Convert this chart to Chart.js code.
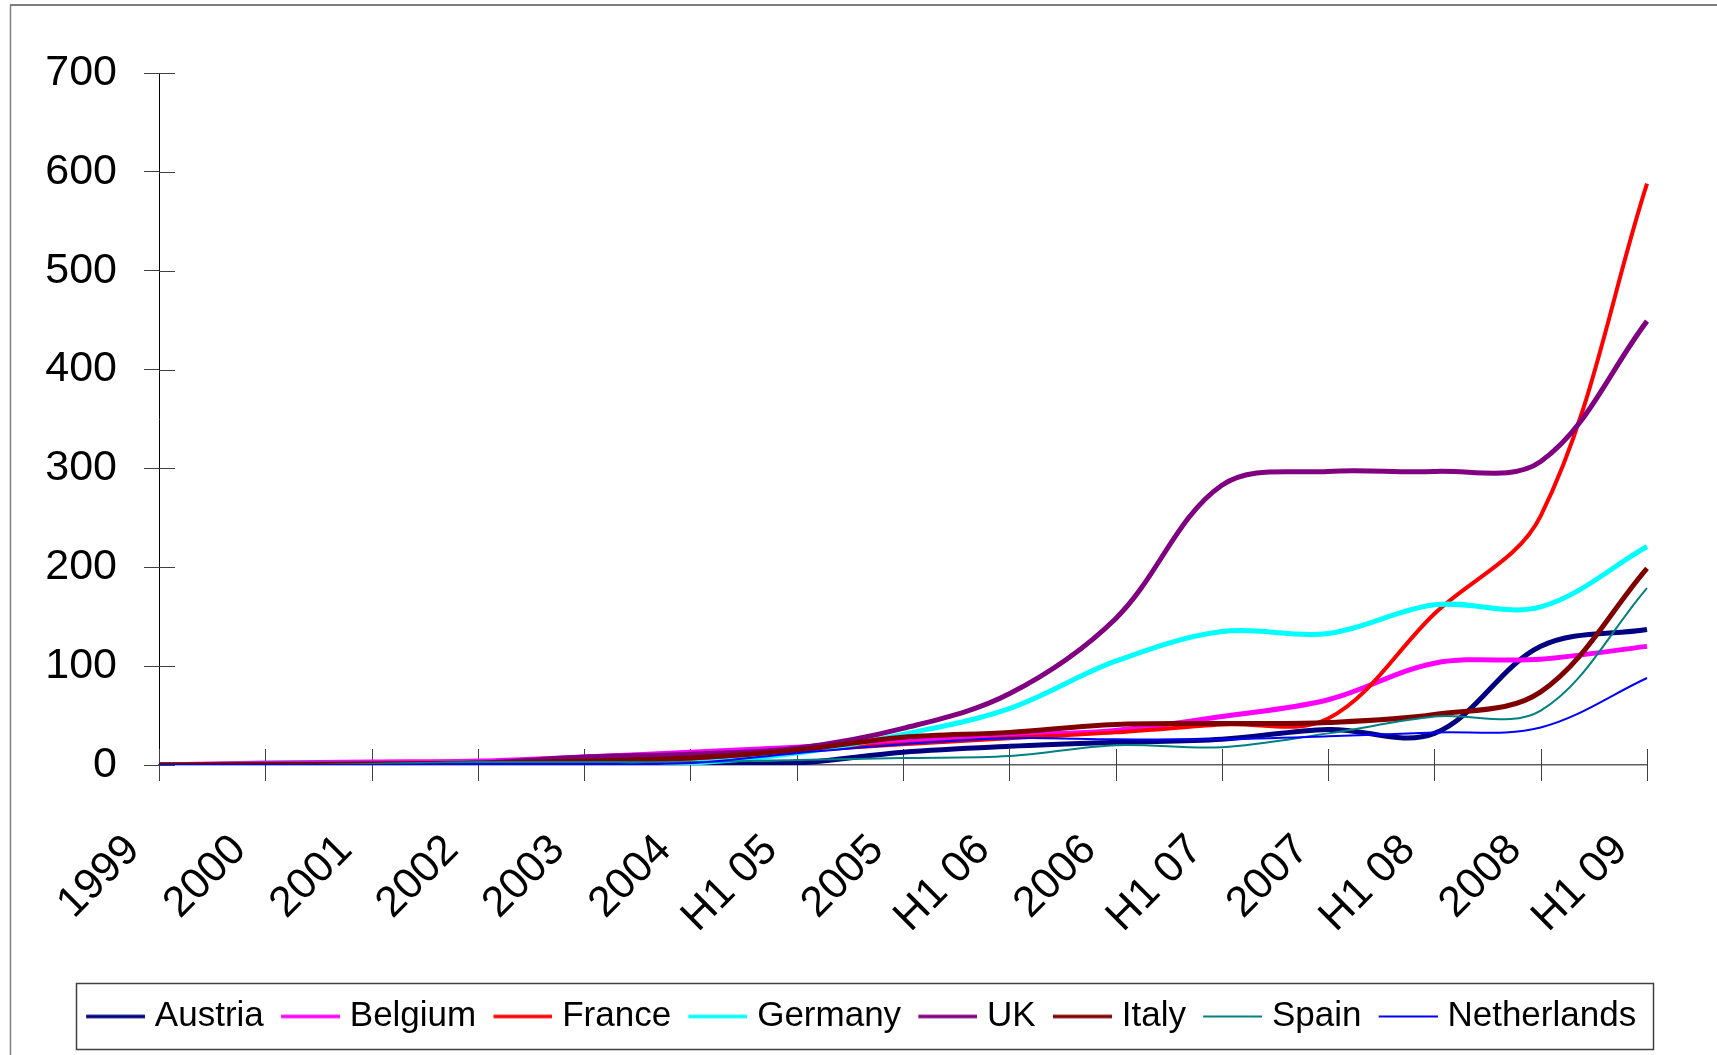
<!DOCTYPE html>
<html>
<head>
<meta charset="utf-8">
<script src="https://cdn.jsdelivr.net/npm/chart.js@4.4.1/dist/chart.umd.min.js"></script>
<style>
  html, body { margin: 0; padding: 0; background: #ffffff; }
  canvas { display: block; }
</style>
</head>
<body>
<canvas id="c" width="1717" height="1055"></canvas>
<script>
// ---- data ----
const periods = ['1999','2000','2001','2002','2003','2004','H1 05','2005','H1 06','2006','H1 07','2007','H1 08','2008','H1 09'];
const austria     = [0, 0, 0, 1, 1, 1, 2, 13, 19, 23, 26, 36, 32, 120, 137];
const belgium     = [0, 2, 3, 4, 8, 13, 18, 24, 30, 35, 49, 66, 103, 107, 120];
const france      = [0, 0, 0, 1, 3, 5, 14, 21, 27, 33, 41, 47, 153, 252, 588];
const germany     = [0, 1, 1, 2, 2, 2, 12, 31, 57, 105, 135, 133, 162, 160, 221];
const uk          = [0, 1, 1, 2, 8, 11, 17, 37, 72, 148, 283, 297, 297, 307, 449];
const italy       = [0, 0, 1, 2, 4, 7, 15, 28, 33, 41, 42, 43, 51, 74, 199];
const spain       = [0, 0, 1, 3, 3, 3, 5, 7, 9, 20, 18, 32, 49, 55, 179];
const netherlands = [0, 0, 0, 1, 1, 2, 12, 21, 27, 26, 26, 29, 33, 38, 88];
const seriesNames = ['Austria','Belgium','France','Germany','UK','Italy','Spain','Netherlands'];
const seriesData  = [austria, belgium, france, germany, uk, italy, spain, netherlands];
const yMin = 0, yMax = 700, yStep = 100;

// ---- styles ----
const colors = ['#000080','#FF00FF','#FF0000','#00FFFF','#800080','#800000','#008080','#0000FF'];
const widths = [5, 5, 4, 5, 5, 5, 2, 2];
const FONT = "'Liberation Sans', Arial, sans-serif";

function legendLine(color, w) {
  const c = document.createElement('canvas');
  c.width = 67; c.height = 12;
  const g = c.getContext('2d');
  g.strokeStyle = color; g.lineWidth = w;
  g.beginPath(); g.moveTo(8, 6); g.lineTo(67, 6); g.stroke();
  return c;
}

const datasets = seriesNames.map((name, i) => ({
  label: name,
  data: seriesData[i],
  borderColor: colors[i],
  backgroundColor: colors[i],
  borderWidth: widths[i],
  pointRadius: 0,
  pointHoverRadius: 0,
  pointStyle: legendLine(colors[i], widths[i] > 2 ? 3.5 : 1.8),
  tension: 0.35,
  fill: false,
  order: seriesNames.length - i
}));

const TICK = 16;
const crossTicks = {
  id: 'crossTicks',
  beforeDatasetsDraw(chart) {
    const {ctx, scales: {x, y}} = chart;
    ctx.save();
    ctx.strokeStyle = '#404040';
    ctx.lineWidth = 1;
    ctx.beginPath();
    x.ticks.forEach((t, i) => {
      const px = Math.round(x.getPixelForTick(i)) + 0.5;
      ctx.moveTo(px, x.top - TICK); ctx.lineTo(px, x.top + TICK);
    });
    y.ticks.forEach((t, i) => {
      const py = Math.round(y.getPixelForTick(i)) + 0.5;
      ctx.moveTo(y.right, py); ctx.lineTo(y.right + TICK, py);
    });
    ctx.stroke();
    ctx.restore();
  }
};

const frame = {
  id: 'frame',
  beforeDraw(chart) {
    const {ctx, width, height} = chart;
    ctx.save();
    ctx.fillStyle = '#ffffff';
    ctx.fillRect(0, 0, width, height);
    ctx.strokeStyle = '#7f7f7f';
    ctx.lineWidth = 2;
    ctx.beginPath(); ctx.moveTo(10, 5); ctx.lineTo(width, 5); ctx.stroke();
    ctx.lineWidth = 1.5;
    ctx.beginPath(); ctx.moveTo(10.5, 5); ctx.lineTo(10.5, height); ctx.stroke();
    ctx.restore();
  },
  afterDraw(chart) {
    const lg = chart.legend;
    if (!lg || !lg.legendHitBoxes || !lg.legendHitBoxes.length) return;
    const hb = lg.legendHitBoxes;
    let l = Infinity, r = -Infinity;
    hb.forEach(b => { l = Math.min(l, b.left); r = Math.max(r, b.left + b.width); });
    const cy = hb[0].top + hb[0].height / 2;
    const {ctx} = chart;
    ctx.save();
    ctx.strokeStyle = '#404040';
    ctx.lineWidth = 1.5;
    ctx.strokeRect(Math.round(l - 10) + 0.5, Math.round(cy - 33.5) + 0.5, Math.round(r + 17 - (l - 10)), 66);
    ctx.restore();
  }
};

new Chart(document.getElementById('c'), {
  type: 'line',
  data: { labels: periods, datasets },
  plugins: [frame, crossTicks],
  options: {
    responsive: false,
    animation: false,
    devicePixelRatio: 1,
    layout: { padding: { left: 5, right: 0, top: 73, bottom: 11 } },
    plugins: {
      tooltip: { enabled: false },
      legend: {
        position: 'bottom',
        labels: {
          usePointStyle: true,
          pointStyleWidth: 51.5,
          boxHeight: 12,
          padding: 17,
          color: '#000',
          font: { family: FONT, size: 35 },
          sort: (a, b) => a.datasetIndex - b.datasetIndex
        }
      }
    },
    scales: {
      x: {
        type: 'category',
        offset: false,
        grid: { drawOnChartArea: false, tickLength: 26.5, color: 'rgba(0,0,0,0)', tickColor: 'rgba(0,0,0,0)' },
        border: { color: '#606060', width: 1.5 },
        ticks: {
          autoSkip: false, minRotation: 45, maxRotation: 45,
          labelOffset: -26, padding: 33.5,
          color: '#000', font: { family: FONT, size: 43 }
        },
        afterFit(scale) {
          const lh = scale.chart.legend ? scale.chart.legend.height : 62;
          scale.height = scale.chart.height - 11 - lh - 765;
        }
      },
      y: {
        min: yMin, max: yMax,
        grid: { drawOnChartArea: false, tickLength: 15, color: '#404040', tickColor: '#404040' },
        border: { color: '#000', width: 1 },
        ticks: { stepSize: yStep, padding: 27, color: '#000', font: { family: FONT, size: 43 } },
        afterFit(scale) { scale.width = 154; }
      }
    }
  }
});
</script>
</body>
</html>
